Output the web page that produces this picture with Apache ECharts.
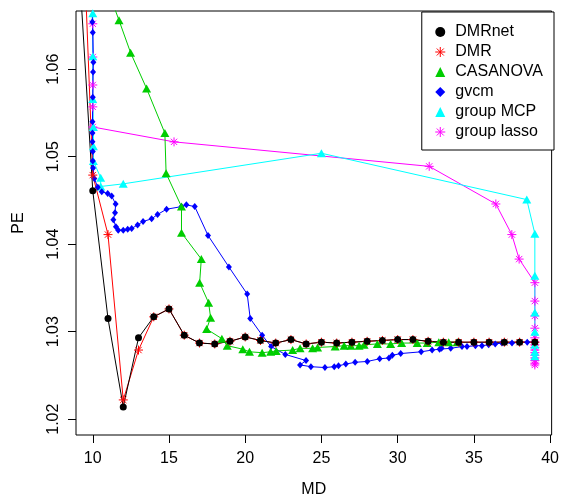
<!DOCTYPE html>
<html>
<head>
<meta charset="utf-8">
<script src="https://cdn.jsdelivr.net/npm/echarts@6/dist/echarts.min.js"></script>
<style>
  html, body { margin: 0; padding: 0; background: #fff; }
  #chart { width: 562px; height: 503px; }
</style>
</head>
<body>
<div id="chart"></div>
<script>
// axis ticks
var xTicks = [10, 15, 20, 25, 30, 35, 40];
var yTicks = [1.02, 1.03, 1.04, 1.05, 1.06];

// DMRnet (black dots), first point lies above the plot and gets clipped
var dmrnetX = [9, 10, 11, 12, 13, 14, 15, 16, 17, 18, 19, 20, 21, 22, 23, 24, 25, 26, 27, 28, 29, 30, 31, 32, 33, 34, 35, 36, 37, 38, 39];
var dmrnetY = [1.0748, 1.0461, 1.0315, 1.0214, 1.0293, 1.0317, 1.0326, 1.0296, 1.0287, 1.0286, 1.0289, 1.0294, 1.0290, 1.0287, 1.0291, 1.0286, 1.0288, 1.0287, 1.0288, 1.0289, 1.0290, 1.0291, 1.0291, 1.0289, 1.0288, 1.0288, 1.0288, 1.0288, 1.0288, 1.0288, 1.0288];

// DMR (red asterisks)
var dmrX = [9, 10, 11, 12, 13, 14, 15, 16, 17, 18, 19, 20, 21, 22, 23, 24, 25, 26, 27, 28, 29, 30, 31, 32, 33, 34, 35, 36, 37, 38, 39];
var dmrY = [1.0930, 1.0479, 1.0411, 1.0222, 1.0279, 1.0317, 1.0326, 1.0296, 1.0287, 1.0286, 1.0289, 1.0294, 1.0290, 1.0287, 1.0291, 1.0286, 1.0288, 1.0287, 1.0288, 1.0289, 1.0290, 1.0291, 1.0291, 1.0289, 1.0288, 1.0288, 1.0288, 1.0288, 1.0288, 1.0288, 1.0288];

// CASANOVA (green triangles)
var casX = [10.8, 11.72, 12.48, 13.53, 14.73, 14.81, 15.82, 15.82, 17.12, 17.01, 17.6, 17.73, 17.47, 18.47, 18.82, 19.84, 20.28, 21.11, 21.67, 22.03, 23.11, 23.6, 24.42, 24.75, 25.9, 26.49, 26.93, 27.47, 27.8, 28.67, 29.54, 30.26, 31.28, 31.94, 32.7, 33.35, 33.9];
var casY = [1.0700, 1.0656, 1.0619, 1.0578, 1.0527, 1.0481, 1.0443, 1.0413, 1.0383, 1.0356, 1.0333, 1.0316, 1.0303, 1.0292, 1.0284, 1.0280, 1.0277, 1.0276, 1.0277, 1.0278, 1.0279, 1.0281, 1.0281, 1.0282, 1.0283, 1.0284, 1.0284, 1.0284, 1.0285, 1.0286, 1.0286, 1.0287, 1.0287, 1.0287, 1.0288, 1.0288, 1.0288];

// gvcm (blue diamonds)
var gvcmX = [10, 9.97, 10, 10.04, 10.02, 10, 9.98, 9.98, 9.98, 10, 10, 10.02, 10.1, 10.33, 10.59, 10.98, 11.24, 11.5, 11.46, 11.35, 11.52, 11.67, 12.0, 12.29, 12.55, 12.94, 13.3, 13.86, 14.25, 14.84, 15.82, 16.14, 16.69, 17.56, 18.93, 20.13, 20.33, 21.11, 21.7, 22.63, 23.99, 23.6, 24.31, 25.23, 25.84, 26.12, 26.6, 27.21, 28.01, 28.82, 29.43, 29.65, 30.2, 31.54, 32.26, 32.75, 32.88, 33.48, 34.22, 34.55, 35.1, 35.53, 35.97, 36.4, 36.84, 37.5, 38, 38.5, 39];
var gvcmY = [1.0700, 1.0654, 1.0642, 1.0608, 1.0597, 1.0568, 1.0540, 1.0527, 1.0517, 1.0506, 1.0495, 1.0487, 1.0475, 1.0465, 1.0460, 1.0458, 1.0455, 1.0446, 1.0436, 1.0428, 1.0420, 1.0416, 1.0416, 1.0417, 1.0418, 1.0422, 1.0426, 1.0429, 1.0434, 1.0440, 1.0443, 1.0445, 1.0443, 1.0410, 1.0374, 1.0343, 1.0315, 1.0296, 1.0283, 1.0274, 1.0267, 1.0262, 1.0260, 1.0259, 1.0260, 1.0261, 1.0263, 1.0265, 1.0266, 1.0269, 1.0270, 1.0273, 1.0275, 1.0277, 1.0279, 1.0280, 1.0281, 1.0281, 1.0283, 1.0283, 1.0284, 1.0284, 1.0285, 1.0286, 1.0287, 1.0287, 1.0288, 1.0288, 1.0288];

// group MCP (cyan triangles)
var mcpX = [10, 10, 10, 10.04, 10.04, 10.04, 10.52, 10.52, 12.0, 25.0, 38.47, 39, 39, 39, 39, 39, 39, 39];
var mcpY = [1.0664, 1.0615, 1.0566, 1.0534, 1.0512, 1.0495, 1.0476, 1.0466, 1.0469, 1.0504, 1.0451, 1.0412, 1.0364, 1.0322, 1.0300, 1.0285, 1.0277, 1.0272];

// group lasso (magenta asterisks)
var lassoX = [10, 10, 10, 10, 10, 15.33, 32.07, 36.44, 37.49, 37.97, 39, 39, 39, 39, 39, 39, 39, 39, 39, 39, 39, 39, 39, 39, 39];
var lassoY = [1.0652, 1.0614, 1.0582, 1.0557, 1.0534, 1.0517, 1.0489, 1.0446, 1.0411, 1.0383, 1.0356, 1.0335, 1.0318, 1.0304, 1.0293, 1.0288, 1.0285, 1.0282, 1.0279, 1.0276, 1.0273, 1.0270, 1.0267, 1.0264, 1.0262];

var FONT = 'Liberation Sans';
//R pch=8 风格的星号
var starPath = 'path://M0 5L10 5M5 0L5 10M1.5 1.5L8.5 8.5M1.5 8.5L8.5 1.5';

function pairs(xs, ys) {
    return xs.map(function (x, i) { return [x, ys[i]]; });
}

function makeSeries(name, xs, ys, color, symbol, size, hollow) {
    return {
        name: name,
        type: 'line',
        data: pairs(xs, ys),
        symbol: symbol,
        symbolSize: size,
        showAllSymbol: true,
        clip: true,
        lineStyle: { color: color, width: 1 },
        itemStyle: hollow
            ? { color: 'none', borderColor: color, borderWidth: 1 }
            : { color: color, borderWidth: 0 },
        emphasis: { disabled: true }
    };
}

var chart = echarts.init(document.getElementById('chart'), null, { renderer: 'canvas' });

chart.setOption({
    animation: false,
    backgroundColor: '#fff',
    textStyle: { fontFamily: FONT, color: '#000' },
    grid: {
        left: 76, right: 9, top: 11, bottom: 63,
        show: true, borderColor: '#000', borderWidth: 1, backgroundColor: 'transparent'
    },
    xAxis: {
        type: 'value',
        min: 8.9, max: 40.1,
        name: 'MD', nameLocation: 'middle', nameGap: 47,
        nameTextStyle: { fontSize: 16, fontFamily: FONT, color: '#000' },
        axisLine: { show: false },
        splitLine: { show: false },
        axisTick: { show: true, inside: false, length: 8, customValues: xTicks, lineStyle: { color: '#000' } },
        axisLabel: { customValues: xTicks, fontSize: 16, fontFamily: FONT, color: '#000', margin: 16 }
    },
    yAxis: {
        type: 'value',
        min: 1.01819, max: 1.06666,
        name: 'PE', nameLocation: 'middle', nameGap: 49, nameRotate: 90,
        nameTextStyle: { fontSize: 16, fontFamily: FONT, color: '#000' },
        axisLine: { show: false },
        splitLine: { show: false },
        axisTick: { show: true, inside: false, length: 8, customValues: yTicks, lineStyle: { color: '#000' } },
        axisLabel: {
            customValues: yTicks, rotate: 90, fontSize: 16, fontFamily: FONT, color: '#000', margin: 14,
            formatter: function (v) { return v.toFixed(2); }
        }
    },
    legend: {
        orient: 'vertical',
        right: 8, top: 12,
        padding: [12, 11, 10, 11],
        itemGap: 4,
        itemWidth: 10, itemHeight: 10,
        borderColor: '#000', borderWidth: 1, borderRadius: 0,
        backgroundColor: '#fff',
        textStyle: { fontSize: 16, fontFamily: FONT, color: '#000', padding: [0, 0, 0, 5] },
        data: [
            { name: 'DMRnet', icon: 'circle', itemStyle: { color: '#000000' } },
            { name: 'DMR', icon: starPath, itemStyle: { color: 'none', borderColor: '#FF0000', borderWidth: 1 } },
            { name: 'CASANOVA', icon: 'triangle', itemStyle: { color: '#00CD00' } },
            { name: 'gvcm', icon: 'diamond', itemStyle: { color: '#0000FF' } },
            { name: 'group MCP', icon: 'triangle', itemStyle: { color: '#00FFFF' } },
            { name: 'group lasso', icon: starPath, itemStyle: { color: 'none', borderColor: '#FF00FF', borderWidth: 1 } }
        ]
    },
    // 后画的在上面，跟原图一致
    series: [
        makeSeries('group lasso', lassoX, lassoY, '#FF00FF', starPath, 9, true),
        makeSeries('group MCP', mcpX, mcpY, '#00FFFF', 'triangle', [9, 8], false),
        makeSeries('gvcm', gvcmX, gvcmY, '#0000FF', 'diamond', [6, 7], false),
        makeSeries('CASANOVA', casX, casY, '#00CD00', 'triangle', [9, 8], false),
        makeSeries('DMR', dmrX, dmrY, '#FF0000', starPath, 9, true),
        makeSeries('DMRnet', dmrnetX, dmrnetY, '#000000', 'circle', 7, false)
    ]
});
</script>
</body>
</html>
